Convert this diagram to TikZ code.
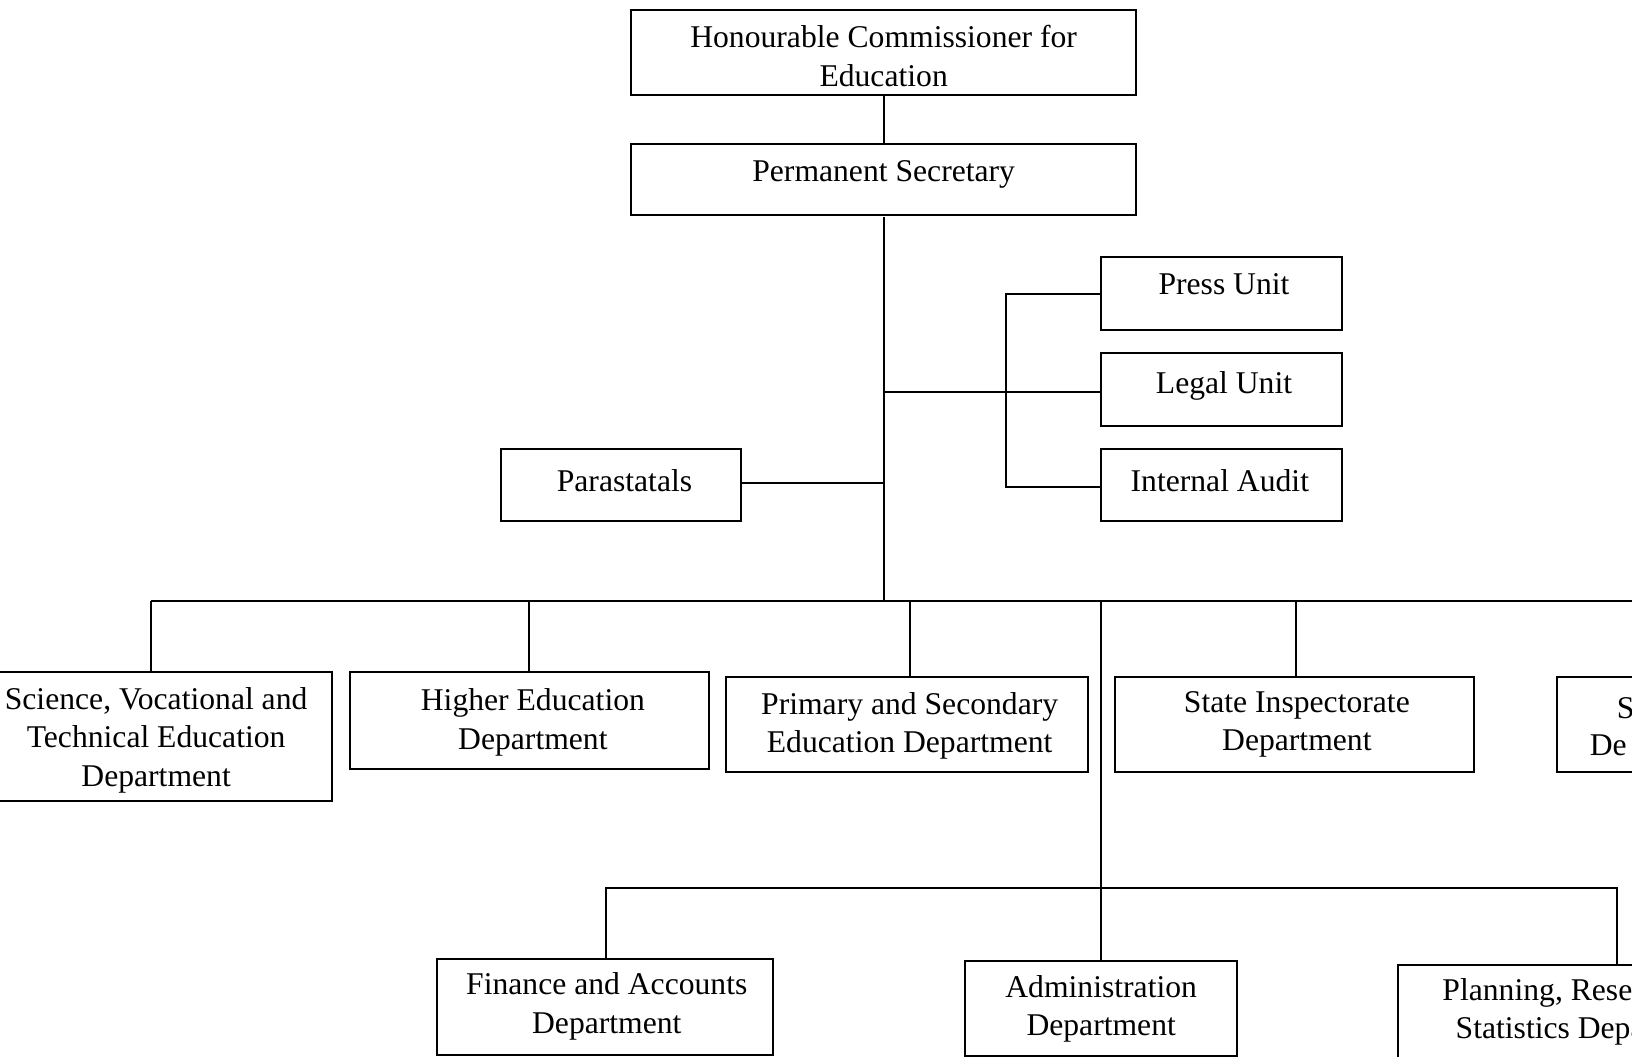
\documentclass[tikz,border=0pt]{standalone}
\usepackage{fontspec}
\setmainfont{Liberation Serif}
\newcommand{\orgfont}{\fontsize{15.2}{18.5}\selectfont}
\tikzset{
  box/.style={draw, line width=1pt, inner sep=0pt},
  lbl/.style={font=\orgfont, align=center, inner sep=0pt},
  conn/.style={line width=1pt}
}
\begin{document}
\begin{tikzpicture}[x=0.5pt,y=-0.5pt,scale=1.0408,transform shape]
\useasboundingbox (0,0) rectangle (1568,1015.5);
\clip (0,0) rectangle (1568,1015.5);
% boxes
\node[box, minimum width=242.5pt, minimum height=40.5pt] (hc) at (849,50.5) {};
\node[box, minimum width=242.5pt, minimum height=34.5pt] (ps) at (849,172.5) {};
\node[box, minimum width=115.5pt, minimum height=35pt] (press) at (1173.5,282) {};
\node[box, minimum width=115.5pt, minimum height=35pt] (legal) at (1173.5,374) {};
\node[box, minimum width=115.5pt, minimum height=35pt] (audit) at (1173.5,466) {};
\node[box, minimum width=115.5pt, minimum height=35pt] (para) at (596.5,466) {};
\node[box, minimum width=169pt, minimum height=62pt] (sci) at (150,708) {};
\node[box, minimum width=172.5pt, minimum height=46.5pt] (higher) at (508.5,692.5) {};
\node[box, minimum width=173.5pt, minimum height=46pt] (prim) at (871.5,696) {};
\node[box, minimum width=172.5pt, minimum height=46pt] (state) at (1243.5,696) {};
\node[box, minimum width=173pt, minimum height=46pt] (fifth) at (1669,696) {};
\node[box, minimum width=161.5pt, minimum height=46.5pt] (fin) at (581.5,967.5) {};
\node[box, minimum width=130.5pt, minimum height=46pt] (admin) at (1057.5,969) {};
\node[box, minimum width=210pt, minimum height=80pt] (plan) at (1553,1007) {};
% texts
\node[lbl] (thc) at (849,54) {Honourable Commissioner for\\Education};
\node[lbl] (tps) at (849,168) {Permanent Secretary};
\node[lbl] (tpress) at (1176,273) {Press Unit};
\node[lbl] (tlegal) at (1176,371) {Legal Unit};
\node[lbl] (taudit) at (1172,462) {Internal Audit};
\node[lbl] (tpara) at (600,462) {Parastatals};
\node[lbl] (tsci) at (150,711) {Science, Vocational and\\Technical Education\\Department};
\node[lbl] (thigher) at (512,694) {Higher Education\\Department};
\node[lbl] (tprim) at (874,697.5) {Primary and Secondary\\Education Department};
\node[lbl] (tstate) at (1246,696) {State Inspectorate\\Department};
\node[lbl, anchor=west] (tfifth1) at (1553,680) {S};
\node[lbl, anchor=west] (tfifth2) at (1527,716) {De};
\node[lbl] (tfin) at (583,967) {Finance and Accounts\\Department};
\node[lbl] (tadmin) at (1058,969.5) {Administration\\Department};
\node[lbl] (tplan) at (1529,972) {Planning, Research and\\Statistics Department};
% junction coordinates
\coordinate (jlegal) at (849,377);
\coordinate (jpara) at (849,464);
\coordinate (bus) at (849,577);
\coordinate (busL) at (145,577);
\coordinate (busR) at (1640,577);
\coordinate (brt) at (966,282);
\coordinate (brb) at (966,468);
\coordinate (lowL) at (582,853);
\coordinate (lowR) at (1553,853);
\coordinate (dprim) at (874,577);
\coordinate (dstate) at (1245,577);
\coordinate (dadmin) at (1058,577);
% connectors
\draw[conn] (hc.south) -- (ps.north);
\draw[conn] (ps.south) -- (bus);
\draw[conn] (jlegal) -- (jlegal -| legal.west);
\draw[conn] (press.west) -- (brt) -- (brb) -- (brb -| audit.west);
\draw[conn] (jpara -| para.east) -- (jpara);
\draw[conn] (busL) -- (busR);
\draw[conn] (busL) -- (busL |- sci.north);
\draw[conn] (higher.north) -- (higher.north |- bus);
\draw[conn] (dprim) -- (dprim |- prim.north);
\draw[conn] (dstate) -- (dstate |- state.north);
\draw[conn] (dadmin) -- (dadmin |- admin.north);
\draw[conn] (lowL |- fin.north) -- (lowL) -- (lowR) -- (lowR |- plan.north);
\end{tikzpicture}
\end{document}
